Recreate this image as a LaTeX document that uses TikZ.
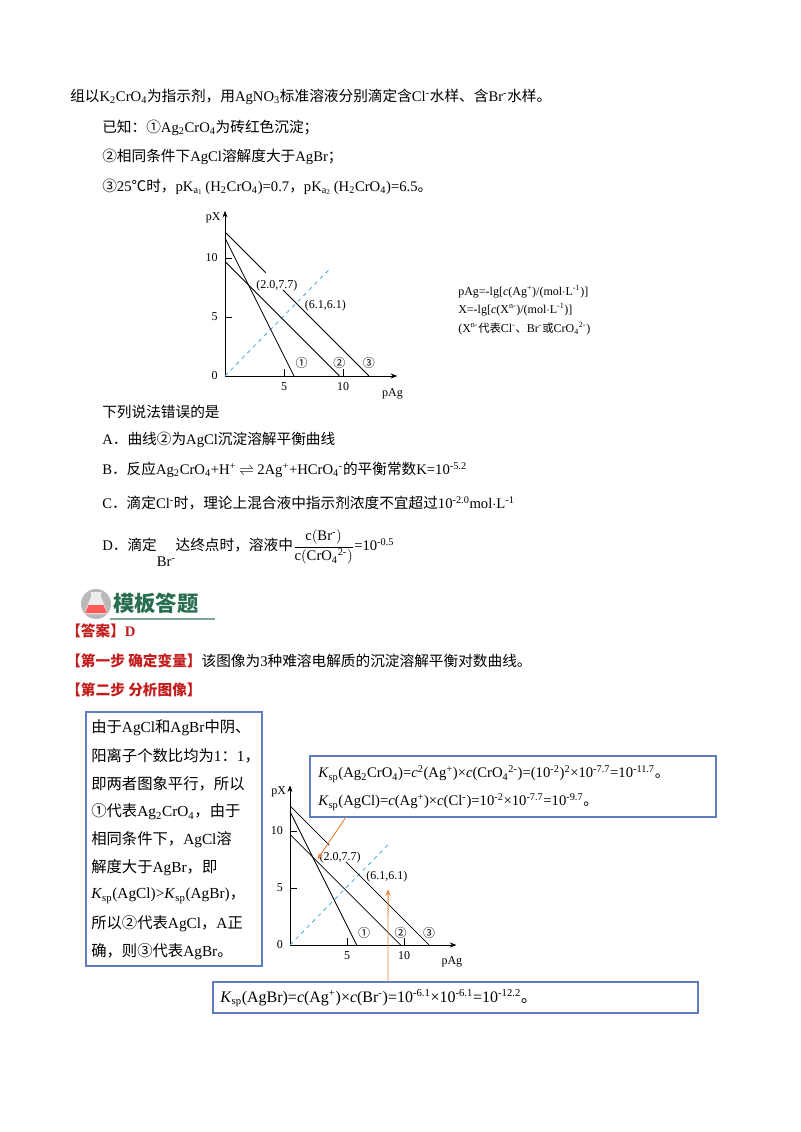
\documentclass[tikz,border=0pt]{standalone}
\usepackage{fontspec}
\setmainfont{Noto Sans CJK SC}
\newfontfamily\latf{Liberation Serif}
\newcommand{\lat}[1]{{\latf #1}}
\newcommand{\dn}[1]{\textsubscript{#1}}
\newcommand{\up}[1]{\textsuperscript{#1}}
\usetikzlibrary{arrows.meta}
\definecolor{boxc}{RGB}{95,125,195}
\definecolor{orng}{RGB}{240,130,60}
\definecolor{dblue}{RGB}{70,170,225}
\definecolor{hred}{RGB}{195,30,30}
\definecolor{lgreen}{RGB}{40,110,80}
\tikzset{
 txt/.style={anchor=west,inner sep=0pt,font=\fontsize{11}{13}\selectfont},
 gtxt/.style={inner sep=0pt,font=\latf\fontsize{9}{10}\selectfont},
 infobox/.style={draw=boxc,line width=0.8pt},
 oarrow/.style={orng,line width=0.7pt,-{Stealth[length=5pt]}},
 curve/.style={line width=0.6pt},
 axis/.style={line width=0.6pt,-{Stealth[length=5pt]}}
}
\newcommand{\graphbody}{%
 \draw[axis] (0,0) -- (0,14) coordinate (ytop);
 \draw[axis] (0,0) -- (14.6,0) coordinate (xend);
 \draw[dblue,dashed,line width=0.6pt] (0,0) -- (8.8,9.0);
 \draw[curve] (0,11.7) -- (5.85,0);
 \draw[curve] (0,9.7) -- (9.7,0);
 \draw[curve] (0,12.2) -- (3.45,8.75);
 \draw[curve] (4.9,7.3) -- (12.2,0);
 \foreach \v in {5,10}{\draw (0,\v) -- (0.6,\v); \draw (\v,0) -- (\v,0.6);}
 \node[gtxt,anchor=east] (t0) at (-0.6,0) {0};
 \node[gtxt,anchor=east] (t5) at (-0.6,5) {5};
 \node[gtxt,anchor=east] (t10) at (-0.6,10) {10};
 \node[gtxt] (x5) at (5,-0.9) {5};
 \node[gtxt] (x10) at (10,-0.9) {10};
 \node[gtxt] (lpx) at (-1.0,13.4) {pX};
 \node[gtxt] (lpag) at (14.2,-1.5) {pAg};
 \node[gtxt] (p1) at (4.4,7.7) {(2.0,7.7)};
 \node[gtxt] (p2) at (8.5,6.0) {(6.1,6.1)};
 \node[inner sep=0pt,font=\fontsize{9}{10}\selectfont] (c1) at (6.5,1.1) {①};
 \node[inner sep=0pt,font=\fontsize{9}{10}\selectfont] (c2) at (9.7,1.1) {②};
 \node[inner sep=0pt,font=\fontsize{9}{10}\selectfont] (c3) at (12.2,1.1) {③};
}
\begin{document}
\begin{tikzpicture}[x=0.75pt,y=-0.75pt]
\useasboundingbox (0,0) rectangle (800,1132);
\fill[white] (0,0) rectangle (800,1132);
% question text
\node[txt] (l1) at (70,97) {组以\lat{K\dn{2}CrO\dn{4}}为指示剂，用\lat{AgNO\dn{3}}标准溶液分别滴定含\lat{Cl\up{-}}水样、含\lat{Br\up{-}}水样。};
\node[txt] (l2) at (102,128) {已知：①\lat{Ag\dn{2}CrO\dn{4}}为砖红色沉淀；};
\node[txt] (l3) at (102,157) {②相同条件下\lat{AgCl}溶解度大于\lat{AgBr}；};
\node[txt] (l4) at (102,187) {③\lat{25}℃时，\lat{pK\dn{a\dn{1}}\,(H\dn{2}CrO\dn{4})=0.7}，\lat{pK\dn{a\dn{2}}\,(H\dn{2}CrO\dn{4})=6.5}。};
% graph 1
\begin{scope}[shift={(225,376)},x=8.85pt,y=8.85pt]
\graphbody
\end{scope}
\node[gtxt,anchor=west] (lg1) at (458,292) {pAg=-lg[\textit{c}(Ag\up{+})/(mol$\cdot$L\up{-1})]};
\node[gtxt,anchor=west] (lg2) at (458,310) {X=-lg[\textit{c}(X\up{n-})/(mol$\cdot$L\up{-1})]};
\node[gtxt,anchor=west] (lg3) at (458,329) {(X\up{n-}{\rmfamily\fontsize{8.5}{10}\selectfont 代表}Cl\up{-}{\rmfamily\fontsize{8.5}{10}\selectfont 、}Br\up{-}{\rmfamily\fontsize{8.5}{10}\selectfont 或}CrO\dn{4}\up{2-})};
% options
\node[txt] (q) at (102,412) {下列说法错误的是};
\node[txt] (qa) at (102,440) {\lat{A}．曲线②为\lat{AgCl}沉淀溶解平衡曲线};
\node[txt] (qb) at (102,470) {\lat{B}．反应\lat{Ag\dn{2}CrO\dn{4}+H\up{+}} $\rightleftharpoons$ \lat{2Ag\up{+}+HCrO\dn{4}\up{-}}的平衡常数\lat{K=10\up{-5.2}}};
\node[txt] (qc) at (102,503) {\lat{C}．滴定\lat{Cl\up{-}}时，理论上混合液中指示剂浓度不宜超过\lat{10\up{-2.0}mol$\cdot$L\up{-1}}};
\node[txt] (qd) at (102,548) {\lat{D}．滴定\raisebox{-12pt}{\lat{Br\up{-}}}达终点时，溶液中$\displaystyle\frac{\hbox{\lat{c}}\bigl(\hbox{\lat{Br\up{-}}}\bigr)}{\hbox{\lat{c}}\bigl(\hbox{\lat{CrO\dn{4}\up{2-}}}\bigr)}$\lat{=10\up{-0.5}}};
% logo
\fill[gray!55] (96,604) circle (15);
\fill[white!85!gray] (91,592) -- (101,592) -- (101,597) -- (108,614) -- (84,614) -- (91,597) -- cycle;
\fill[red!65] (88.5,605) -- (103.5,605) -- (107,613) -- (85,613) -- cycle;
\node[anchor=west,inner sep=0pt,text=lgreen,font=\bfseries\fontsize{16}{18}\selectfont] (logo) at (113,603) {模板答题};
\draw[lgreen!60,line width=0.8pt] (110,619) -- (215,619);
% answer
\node[txt] (ans) at (66,631) {\textcolor{hred}{\bfseries 【答案】\lat{D}}};
\node[txt] (s1) at (66,661) {\textcolor{hred}{\bfseries 【第一步\ 确定变量】}该图像为\lat{3}种难溶电解质的沉淀溶解平衡对数曲线。};
\node[txt] (s2) at (66,690) {\textcolor{hred}{\bfseries 【第二步\ 分析图像】}};
% left box
\draw[infobox] (86,712) rectangle (262,966);
\foreach \i/\t in {0/{由于\lat{AgCl}和\lat{AgBr}中阴、},1/{阳离子个数比均为\lat{1}：\lat{1}，},2/{即两者图象平行，所以},3/{①代表\lat{Ag\dn{2}CrO\dn{4}}，由于},4/{相同条件下，\lat{AgCl}溶},5/{解度大于\lat{AgBr}，即},6/{\lat{\textit{K}\dn{sp}(AgCl)>\textit{K}\dn{sp}(AgBr)}，},7/{所以②代表\lat{AgCl}，\lat{A}正},8/{确，则③代表\lat{AgBr}。}}
 {\node[txt,font=\fontsize{11.5}{13}\selectfont] (lb\i) at (91,{728+28*\i}) {\t};}
% graph 2
\begin{scope}[shift={(290,945)},x=8.55pt,y=8.55pt]
\graphbody
\coordinate (tipA) at (2.4,7.5);
\coordinate (tipB) at (8.6,4.9);
\end{scope}
% top box
\draw[infobox] (310,756) rectangle (716,817);
\node[txt,font=\latf\fontsize{11}{13}\selectfont] (k1) at (318,774) {\textit{K}\dn{sp}(Ag\dn{2}CrO\dn{4})=\textit{c}\up{2}(Ag\up{+})×\textit{c}(CrO\dn{4}\up{2-})=(10\up{-2})\up{2}×10\up{-7.7}=10\up{-11.7}{\rmfamily 。}};
\node[txt,font=\latf\fontsize{11}{13}\selectfont] (k2) at (318,802) {\textit{K}\dn{sp}(AgCl)=\textit{c}(Ag\up{+})×\textit{c}(Cl\up{-})=10\up{-2}×10\up{-7.7}=10\up{-9.7}{\rmfamily 。}};
\coordinate (fromA) at (346,817);
\draw[oarrow] (fromA) -- (tipA);
% bottom box
\draw[infobox] (213,982) rectangle (698,1013);
\node[txt,font=\latf\fontsize{12}{14}\selectfont] (k3) at (220,998) {\textit{K}\dn{sp}(AgBr)=\textit{c}(Ag\up{+})×\textit{c}(Br\up{-})=10\up{-6.1}×10\up{-6.1}=10\up{-12.2}{\rmfamily 。}};
\coordinate (fromB) at (388,982);
\draw[oarrow] (fromB) -- (tipB);
\end{tikzpicture}
\end{document}
